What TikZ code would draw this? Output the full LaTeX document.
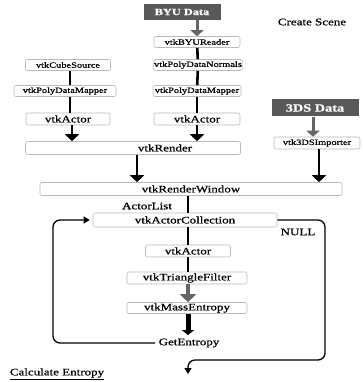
\documentclass[tikz,border=0pt]{standalone}
\usepackage{fontspec}
\setmainfont{Liberation Serif}[FakeStretch=1.3,FakeBold=0.8]
\usepackage{xcolor}
\usetikzlibrary{arrows.meta}

\tikzset{
  box/.style={draw=gray!55, line width=0.6pt, rounded corners=2pt, inner sep=0.5pt, minimum height=11pt},
  small/.style={font=\fontsize{8}{9}\selectfont},
  big/.style={font=\fontsize{10}{11}\selectfont},
  databox/.style={fill=black!65, text=white, inner sep=1pt},
  link/.style={line width=2.6pt},
  flow/.style={line width=2.6pt, -{Triangle[width=14pt,length=7pt]}},
  greyflow/.style={line width=3pt, draw=black!60, -{Triangle[width=13pt,length=6pt]}},
  loopline/.style={line width=1.3pt, rounded corners=7pt, -{Triangle[width=7pt,length=6pt]}}
}

\begin{document}
\begin{tikzpicture}[x=1pt,y=-1pt]
    \useasboundingbox (0,0) rectangle (363,382);

    % data sources
    \node[databox, font=\fontsize{9.5}{10}\bfseries\selectfont, minimum width=77pt, minimum height=16pt] (byu) at (182,12) {BYU Data};
    \node[databox, font=\fontsize{11}{12}\bfseries\selectfont, minimum width=87pt, minimum height=17pt] (tds) at (315,108) {3DS Data};
    \node[big] (scene) at (312,22) {Create Scene};

    % BYU pipeline
    \node[box, small, minimum width=86pt] (byureader) at (197,42) {vtkBYUReader};
    \node[box, small, minimum width=88pt] (normals) at (198,65) {vtkPolyDataNormals};
    \node[box, small, minimum width=88pt] (mapperR) at (197,91) {vtkPolyDataMapper};
    \node[box, big, minimum width=86pt, minimum height=12pt] (actorR) at (197,119) {vtkActor};

    % cube pipeline
    \node[box, small, minimum width=85pt] (cube) at (68,65) {vtkCubeSource};
    \node[box, small, minimum width=102pt] (mapperL) at (65,91) {vtkPolyDataMapper};
    \node[box, big, minimum width=84pt, minimum height=12pt] (actorL) at (68,119) {vtkActor};

    % renderer
    \node[box, minimum width=215pt, minimum height=13pt] (render) at (133,148) {};
    \node[big] (renderlbl) at (165,148) {vtkRender};
    \node[box, small, minimum width=86pt, minimum height=12pt] (importer) at (317,143) {vtk3DSImporter};
    \node[box, big, minimum width=302pt, minimum height=13pt] (window) at (191,189) {vtkRenderWindow};

    % entropy loop
    \node[big] (actorlist) at (147,206) {ActorList};
    \node[box, big, minimum width=184pt, minimum height=14pt] (collection) at (185,220) {vtkActorCollection};
    \node[big] (null) at (298,232) {NULL};
    \node[box, big, minimum width=85pt, minimum height=12pt] (actorB) at (188,251) {vtkActor};
    \node[box, big, minimum width=120pt, minimum height=12pt] (tri) at (187,278) {vtkTriangleFilter};
    \node[box, big, minimum width=120pt, minimum height=11pt] (mass) at (187,308) {vtkMassEntropy};
    \node[big] (get) at (189,343) {GetEntropy};
    \node[big] (calc) at (57,374) {\underline{Calculate Entropy}};
    \coordinate (stop) at (188,374);

    % connectors
    \draw[greyflow] (byureader.north |- byu.south) -- (byureader.north);
    \draw[link] (byureader) -- (normals);
    \draw[link] (normals) -- (mapperR);
    \draw[link] (mapperR) -- (actorR);
    \draw[link] (70,0 |- cube.south) -- (70,0 |- mapperL.north);
    \draw[link] (70,0 |- mapperL.south) -- (70,0 |- actorL.north);
    \draw[flow] (72,0 |- actorL.south) -- (72,0 |- render.north);
    \draw[flow] (actorR.south) -- (actorR.south |- render.north);
    \draw[greyflow] (313,0 |- tds.south) -- (313,0 |- importer.north);
    \draw[flow] (137,0 |- render.south) -- (137,0 |- window.north);
    \draw[flow] (319,0 |- importer.south) -- (319,0 |- window.north);
    \draw[link] (188,0 |- window.south) -- (188,0 |- collection.north);
    \draw[link] (188,0 |- collection.south) -- (188,0 |- actorB.north);
    \draw[link] (188,0 |- actorB.south) -- (188,0 |- tri.north);
    \draw[greyflow, line width=3.5pt, -{Triangle[width=16pt,length=8pt]}] (188,0 |- tri.south) -- (188,0 |- mass.north);
    \draw[line width=5pt, -{Triangle[width=12pt,length=5pt]}] (188,0 |- mass.south) -- (188,0 |- get.north);
    \draw[loopline] (get.west) -- (53,343) -- (53,220) -- ([xshift=-3pt]collection.west);
    \draw[loopline] (collection.east) -- (325,220) -- (325,360) -- (188,360) -- (stop);

\end{tikzpicture}
\end{document}
